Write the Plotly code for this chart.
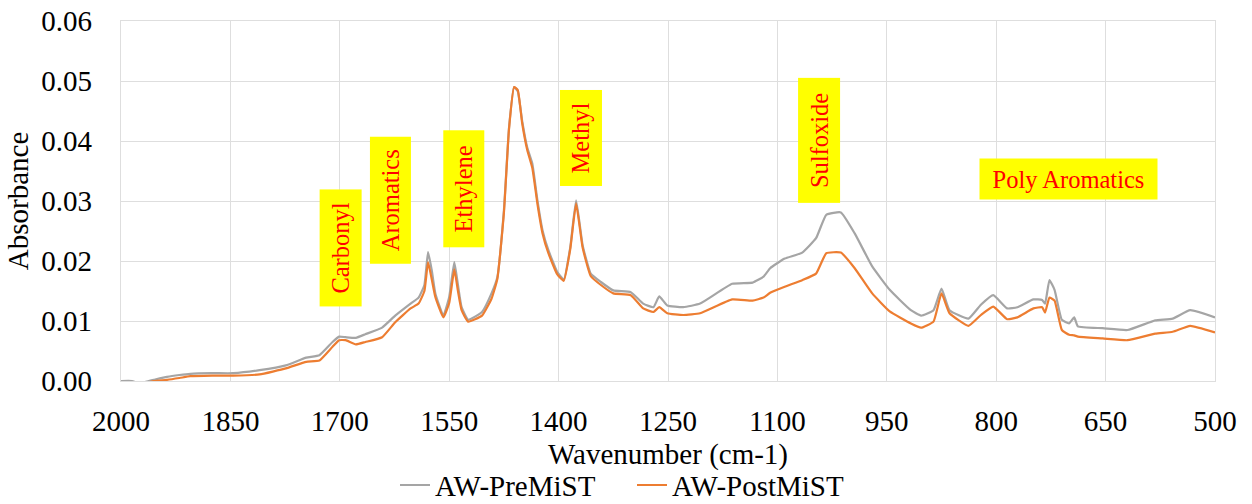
import plotly.graph_objects as go

wavenumber = [2000, 1985, 1975, 1962, 1955, 1937, 1920, 1905, 1875, 1846, 1810, 1774, 1746, 1728,
              1710, 1701, 1692, 1678, 1665, 1642, 1624, 1603, 1592, 1584, 1579, 1574, 1569, 1558,
              1550, 1543, 1538, 1533, 1524, 1505, 1492, 1484, 1475, 1468, 1461, 1456, 1450, 1443,
              1436, 1429, 1422, 1414, 1402, 1393, 1384, 1376, 1367, 1356, 1342, 1325, 1301, 1284,
              1270, 1262, 1251, 1229, 1206, 1162, 1134, 1119, 1110, 1090, 1066, 1047, 1033, 1013,
              994, 970, 946, 917, 903, 886, 875, 864, 838, 821, 804, 785, 771, 749, 737, 733, 727,
              720, 710, 700, 693, 688, 654, 620, 582, 558, 534, 500]

pre_mist = [0.0000, 0.0000, -0.0004, 0.0000, 0.0002, 0.0007, 0.0010, 0.0012, 0.0013, 0.0013, 0.0018,
            0.0026, 0.0039, 0.0043, 0.0065, 0.0074, 0.0073, 0.0072, 0.0078, 0.0089, 0.0109, 0.0129,
            0.0139, 0.0160, 0.0215, 0.0185, 0.0146, 0.0109, 0.0140, 0.0198, 0.0160, 0.0123, 0.0102,
            0.0115, 0.0146, 0.0173, 0.0284, 0.0422, 0.0490, 0.0483, 0.0434, 0.0389, 0.0362, 0.0301,
            0.0251, 0.0218, 0.0182, 0.0169, 0.0223, 0.0301, 0.0226, 0.0179, 0.0165, 0.0151, 0.0148,
            0.0129, 0.0123, 0.0141, 0.0126, 0.0123, 0.0129, 0.0162, 0.0164, 0.0174, 0.0188, 0.0204,
            0.0214, 0.0238, 0.0277, 0.0281, 0.0246, 0.0191, 0.0152, 0.0118, 0.0109, 0.0118, 0.0154,
            0.0118, 0.0104, 0.0127, 0.0143, 0.0121, 0.0123, 0.0136, 0.0135, 0.0129, 0.0168, 0.0152,
            0.0102, 0.0096, 0.0106, 0.0091, 0.0088, 0.0085, 0.0101, 0.0104, 0.0118, 0.0106]

post_mist = [-0.0006, -0.0005, -0.0005, -0.0002, 0.0000, 0.0002, 0.0005, 0.0008, 0.0009, 0.0009, 0.0011,
             0.0021, 0.0032, 0.0034, 0.0057, 0.0068, 0.0068, 0.0061, 0.0065, 0.0073, 0.0098, 0.0121,
             0.0129, 0.0150, 0.0198, 0.0170, 0.0140, 0.0106, 0.0130, 0.0186, 0.0150, 0.0118, 0.0099,
             0.0109, 0.0137, 0.0170, 0.0280, 0.0420, 0.0490, 0.0485, 0.0430, 0.0385, 0.0355, 0.0295,
             0.0246, 0.0213, 0.0178, 0.0167, 0.0220, 0.0296, 0.0222, 0.0175, 0.0160, 0.0146, 0.0143,
             0.0121, 0.0115, 0.0123, 0.0113, 0.0110, 0.0113, 0.0136, 0.0134, 0.0139, 0.0147, 0.0157,
             0.0168, 0.0179, 0.0213, 0.0214, 0.0188, 0.0146, 0.0116, 0.0096, 0.0089, 0.0099, 0.0146,
             0.0113, 0.0092, 0.0110, 0.0124, 0.0103, 0.0106, 0.0121, 0.0123, 0.0114, 0.0139, 0.0134,
             0.0085, 0.0077, 0.0076, 0.0074, 0.0071, 0.0068, 0.0079, 0.0082, 0.0092, 0.0081]

series_names = ["AW-PreMiST", "AW-PostMiST"]
series_colors = ["#A5A5A5", "#ED7D31"]

x_ticks = [2000, 1850, 1700, 1550, 1400, 1250, 1100, 950, 800, 650, 500]
y_ticks = [0.00, 0.01, 0.02, 0.03, 0.04, 0.05, 0.06]

x_title = "Wavenumber (cm-1)"
y_title = "Absorbance"

# label, wavenumber, absorbance, rotation, box width, box height
labels = [
    ("Carbonyl", 1699, 0.0221, -90, 116, 41),
    ("Aromatics", 1630, 0.0301, -90, 126, 40),
    ("Ethylene", 1530, 0.0320, -90, 116, 40),
    ("Methyl", 1370, 0.0405, -90, 95, 41),
    ("Sulfoxide", 1043, 0.0401, -90, 124, 41),
    ("Poly Aromatics", 701, 0.0336, 0, 177, 40),
]

FONT = "'Liberation Serif', 'Times New Roman', serif"

fig = go.Figure()
for name, ys, col in zip(series_names, [pre_mist, post_mist], series_colors):
    fig.add_trace(go.Scatter(x=wavenumber, y=ys, mode="lines", name=name,
                             line=dict(color=col, width=2.2, shape="spline", smoothing=0.4)))

for text, x, y, ang, w, h in labels:
    fig.add_annotation(x=x, y=y, xref="x", yref="y", text=text, showarrow=False,
                       textangle=ang, bgcolor="#FFFF00", borderpad=0, width=w, height=h,
                       font=dict(family=FONT, size=24.5, color="#FF0000"))

# x-axis title placed below the tick labels
fig.add_annotation(x=0.5, y=-0.203, xref="paper", yref="paper", text=x_title,
                   showarrow=False, xanchor="center", yanchor="middle",
                   font=dict(family=FONT, size=29, color="#000000"))

fig.update_layout(
    width=1252, height=504,
    margin=dict(l=121, r=37, t=21, b=123, autoexpand=False),
    paper_bgcolor="white", plot_bgcolor="white",
    font=dict(family=FONT, size=29, color="#000000"),
    showlegend=True,
    legend=dict(orientation="h", xref="container", yref="container", x=395 / 1252, y=0.088,
                xanchor="left", yanchor="top", font=dict(family=FONT, size=29),
                itemwidth=30, tracegroupgap=0, entrywidth=192),
)
fig.update_xaxes(range=[2000, 500], tickmode="array", tickvals=x_ticks,
                 ticktext=[str(v) for v in x_ticks], showgrid=True, gridcolor="#DEDEDE",
                 gridwidth=1.3, showline=True, linecolor="#DEDEDE", linewidth=1.3, mirror=True,
                 zeroline=False, ticks="", ticklabelstandoff=14, automargin=False,
                 tickfont=dict(size=29))
fig.update_yaxes(range=[0, 0.06], tickmode="array", tickvals=y_ticks,
                 ticktext=[f"{v:.2f}" for v in y_ticks], showgrid=True, gridcolor="#DEDEDE",
                 gridwidth=1.3, showline=True, linecolor="#DEDEDE", linewidth=1.3, mirror=True,
                 zeroline=False, ticks="", ticklabelstandoff=22, automargin=False,
                 title=dict(text=y_title, standoff=4, font=dict(size=29)),
                 tickfont=dict(size=29))

fig.write_html("out.html", config={"displayModeBar": False},
               post_script="document.body.style.margin='0';")
